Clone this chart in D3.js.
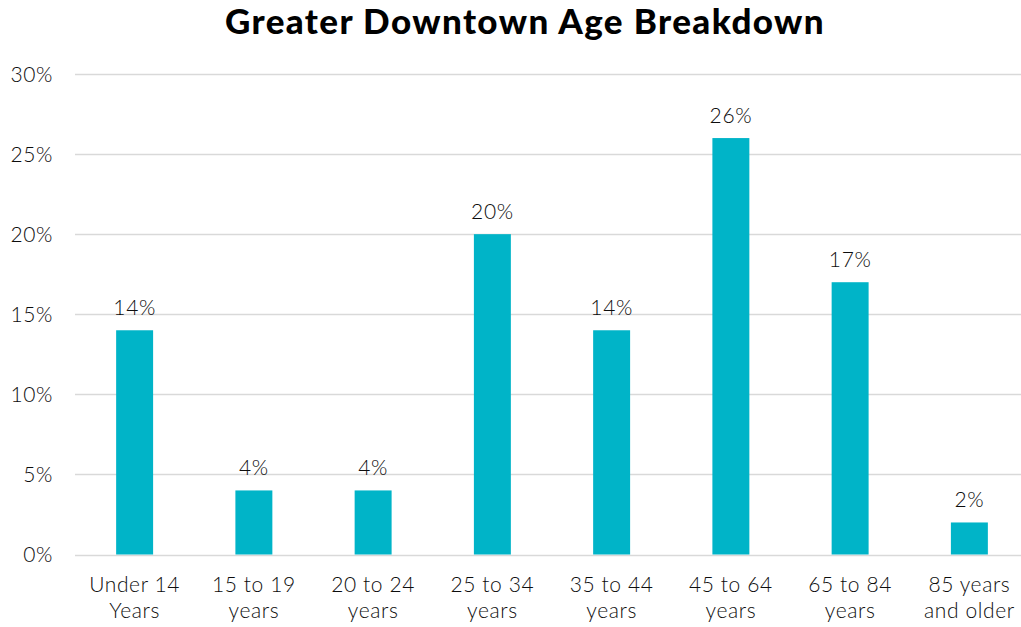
<!DOCTYPE html>
<html>
<head>
<meta charset="utf-8">
<script src="https://cdn.jsdelivr.net/npm/d3@7"></script>
<style>
  body { margin: 0; background: #fff; }
  text { font-family: Lato, "Noto Sans", sans-serif; }
</style>
</head>
<body>
<div id="wrapper"></div>
<script>
const categories = [
  ["Under 14", "Years"],
  ["15 to 19", "years"],
  ["20 to 24", "years"],
  ["25 to 34", "years"],
  ["35 to 44", "years"],
  ["45 to 64", "years"],
  ["65 to 84", "years"],
  ["85 years", "and older"],
];
const values = [14, 4, 4, 20, 14, 26, 17, 2];
const yTicks = [0, 5, 10, 15, 20, 25, 30];
const title = "Greater Downtown Age Breakdown";

const dimensions = { width: 1021, height: 627 };
const margin = { top: 74, right: -8, bottom: 72, left: 75 };
const labelStyle = (sel) =>
  sel
    .attr("font-size", 21)
    .attr("font-weight", 300)
    .attr("letter-spacing", 0.6)
    .attr("fill", "#0d0d0d")
    .attr("font-family", "Lato, 'Noto Sans', sans-serif");

const svg = d3
  .select("#wrapper")
  .append("svg")
  .attr("width", dimensions.width)
  .attr("height", dimensions.height);

const x = d3
  .scaleBand()
  .domain(categories.map((_, i) => i))
  .range([margin.left, dimensions.width - margin.right])
  .paddingInner(0.69)
  .paddingOuter(0.345);

const y = d3
  .scaleLinear()
  .domain([0, 30])
  .range([dimensions.height - margin.bottom - 0.5, margin.top]);

svg
  .append("text")
  .attr("x", 525)
  .attr("y", 34)
  .attr("text-anchor", "middle")
  .attr("font-size", 35)
  .attr("font-weight", 900)
  .attr("letter-spacing", 1.4)
  .attr("fill", "#000")
  .text(title);

// gridlines
svg
  .append("g")
  .selectAll("line")
  .data(yTicks)
  .enter()
  .append("line")
  .attr("x1", margin.left)
  .attr("x2", 1021)
  .attr("y1", (d) => Math.round(y(d)) + 0.5)
  .attr("y2", (d) => Math.round(y(d)) + 0.5)
  .attr("stroke", "#d9d9d9")
  .attr("stroke-width", 1.3);

const yAxis = d3
  .axisLeft(y)
  .tickValues(yTicks)
  .tickFormat((d) => `${d}%`)
  .tickSize(0)
  .tickPadding(0);

svg
  .append("g")
  .attr("transform", `translate(53,0)`)
  .call(yAxis)
  .call((g) => g.select(".domain").remove())
  .call((g) => g.selectAll("text").call(labelStyle).attr("dy", "0.35em"));

svg
  .append("g")
  .selectAll("rect")
  .data(values)
  .enter()
  .append("rect")
  .attr("x", (_, i) => x(i))
  .attr("width", x.bandwidth())
  .attr("y", (d) => y(d))
  .attr("height", (d) => y(0) - y(d))
  .attr("fill", "#00b4c8");

svg
  .append("g")
  .selectAll("text")
  .data(values)
  .enter()
  .append("text")
  .attr("x", (_, i) => x(i) + x.bandwidth() / 2)
  .attr("y", (d) => y(d) - 15)
  .attr("text-anchor", "middle")
  .call(labelStyle)
  .text((d) => `${d}%`);

const labels = svg
  .append("g")
  .selectAll("text")
  .data(categories)
  .enter()
  .append("text")
  .attr("x", (_, i) => x(i) + x.bandwidth() / 2)
  .attr("y", 592)
  .attr("text-anchor", "middle")
  .call(labelStyle);

labels
  .selectAll("tspan")
  .data((d) => d)
  .enter()
  .append("tspan")
  .attr("x", function () {
    return d3.select(this.parentNode).attr("x");
  })
  .attr("dy", (_, i) => (i === 0 ? 0 : 26))
  .text((d) => d);
</script>
</body>
</html>
